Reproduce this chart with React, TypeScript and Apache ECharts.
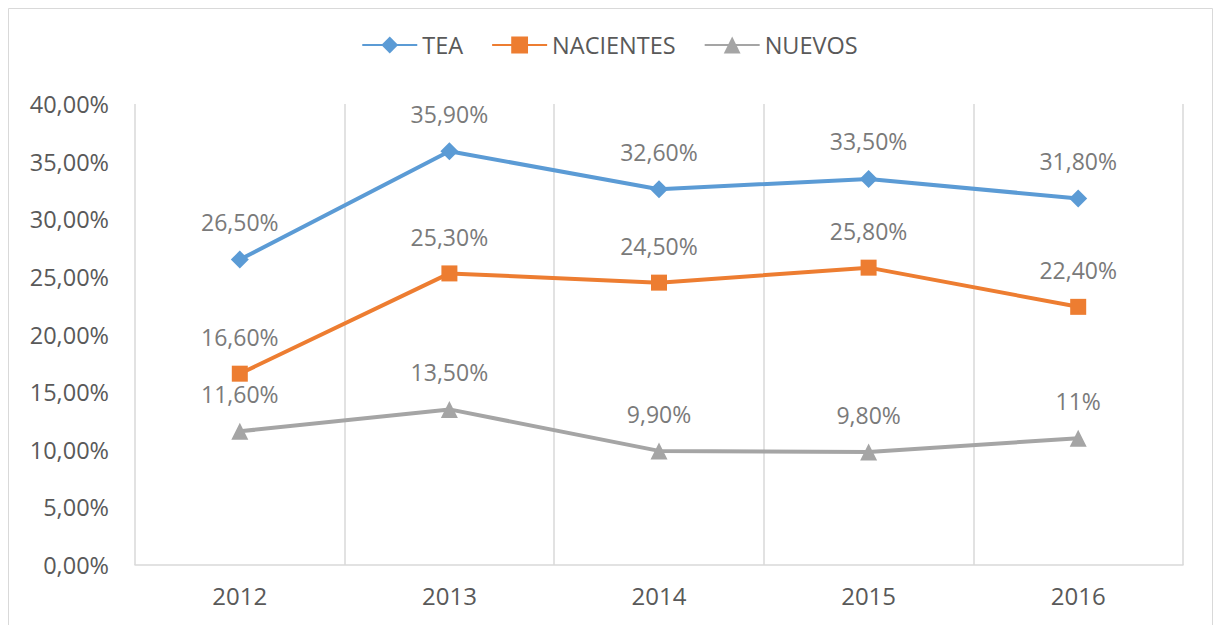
import React, { useEffect, useRef } from "react";
import * as echarts from "echarts";

const years = ["2012", "2013", "2014", "2015", "2016"];
const tea = [26.5, 35.9, 32.6, 33.5, 31.8];
const nacientes = [16.6, 25.3, 24.5, 25.8, 22.4];
const nuevos = [11.6, 13.5, 9.9, 9.8, 11];
const teaLabels = ["26,50%", "35,90%", "32,60%", "33,50%", "31,80%"];
const nacientesLabels = ["16,60%", "25,30%", "24,50%", "25,80%", "22,40%"];
const nuevosLabels = ["11,60%", "13,50%", "9,90%", "9,80%", "11%"];

const FONT = "'Open Sans', sans-serif";

export default function App() {
  const ref = useRef<HTMLDivElement>(null);
  useEffect(() => {
    const chart = echarts.init(ref.current!, null, { renderer: "svg" });
    const mk = (name: string, data: number[], labels: string[], color: string, symbol: string, size: number) => ({
      name,
      type: "line",
      data,
      symbol,
      symbolSize: size,
      itemStyle: { color },
      lineStyle: { color, width: 4 },
      label: {
        show: true,
        position: "top",
        distance: 17,
        color: "#7a7a7a",
        fontSize: 23,
        fontFamily: FONT,
        formatter: (p: any) => labels[p.dataIndex],
      },
    });
    chart.setOption({
      animation: false,
      backgroundColor: "#fff",
      graphic: [
        {
          type: "rect",
          shape: { x: 8.5, y: 8.5, width: 1204, height: 700 },
          style: { fill: "none", stroke: "#d9d9d9", lineWidth: 1 },
          silent: true,
        },
      ],
      legend: {
        top: 28,
        left: "center",
        itemWidth: 55,
        itemHeight: 21,
        itemGap: 28,
        textStyle: { color: "#595959", fontSize: 23.5, fontFamily: FONT },
        data: ["TEA", "NACIENTES", "NUEVOS"],
      },
      grid: { left: 135, right: 36, top: 104, bottom: 60 },
      xAxis: {
        type: "category",
        data: years,
        boundaryGap: true,
        axisTick: { show: false },
        axisLine: { lineStyle: { color: "#d9d9d9", width: 1.5 } },
        splitLine: { show: true, lineStyle: { color: "#d9d9d9", width: 1.5 } },
        axisLabel: { color: "#595959", fontSize: 24, fontFamily: FONT, margin: 18 },
      },
      yAxis: {
        type: "value",
        min: 0,
        max: 40,
        interval: 5,
        axisLine: { show: false },
        axisTick: { show: false },
        splitLine: { show: false },
        axisLabel: {
          color: "#595959",
          fontSize: 23.5,
          fontFamily: FONT,
          margin: 26,
          formatter: (v: number) => v.toFixed(2).replace(".", ",") + "%",
        },
      },
      series: [
        mk("TEA", tea, teaLabels, "#5b9bd5", "diamond", 18),
        mk("NACIENTES", nacientes, nacientesLabels, "#ed7d31", "rect", 16),
        mk("NUEVOS", nuevos, nuevosLabels, "#a5a5a5", "triangle", 17),
      ],
    });
    return () => chart.dispose();
  }, []);
  return (
    <div
      ref={ref}
      style={{ position: "absolute", left: 0, top: 0, width: 1219, height: 625 }}
    />
  );
}
